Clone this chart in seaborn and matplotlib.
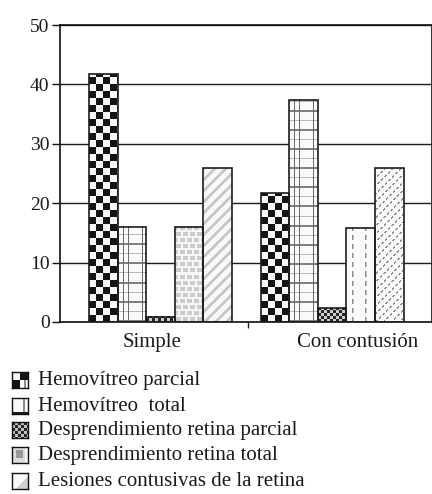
import numpy as np
import pandas as pd
import matplotlib
matplotlib.use("Agg")
import matplotlib.pyplot as plt
import seaborn as sns

# Porcentaje de lesiones por tipo de traumatismo
categories = ["Simple", "Con contusión"]
series = [
    "Hemovítreo parcial",
    "Hemovítreo  total",
    "Desprendimiento retina parcial",
    "Desprendimiento retina total",
    "Lesiones contusivas de la retina",
]
simple_vals = [41.7, 16.0, 0.9, 16.0, 25.9]
contusion_vals = [21.7, 37.4, 2.3, 15.9, 25.9]
y_ticks = [0, 10, 20, 30, 40, 50]

rows = []
for cat, vals in zip(categories, [simple_vals, contusion_vals]):
    for s, v in zip(series, vals):
        rows.append((cat, s, v))
df = pd.DataFrame(rows, columns=["tipo", "lesion", "pct"])

sns.set_theme(style="white")
plt.rcParams["font.family"] = ["Liberation Serif", "DejaVu Serif"]
TXT = "#1a1a1a"

W, H = 432, 494
fig = plt.figure(figsize=(W / 100, H / 100), dpi=100)
ax = fig.add_axes([60 / W, 172 / H, 371.5 / W, 297 / H])

sns.barplot(
    data=df, x="tipo", y="pct", hue="lesion",
    order=categories, hue_order=series,
    palette=["white"] * len(series), width=0.834,
    edgecolor="#1c1c1c", linewidth=1.2, errorbar=None,
    legend=False, ax=ax, zorder=3,
)
XLIM = (-0.586, 1.580)
ax.set_xlim(*XLIM)
ax.set_ylim(0, 50)


def bar_texture(si, ci, h, w):
    """Grey-level fill pattern for a bar of h x w pixels (anchored at the base)."""
    row, col = np.mgrid[0:h, 0:w]
    yy = h - 1 - row
    xx = col
    if si == 0:  # coarse checkerboard
        cell = 7.0
        m = ((np.floor(yy / cell) + np.floor(xx / cell)) % 2) == 0
        return np.where(m, 0.08, 0.97)
    if si == 1:  # plaid
        t = np.full((h, w), 0.98)
        t[(yy % 19) == 10] = 0.72
        t[(yy % 19) < 2] = 0.5
        vc = xx % 19
        t[(vc == 5) | (vc == 10)] = 0.42
        return t
    if si == 2:  # fine dark checker
        m = ((yy // 3 + xx // 3) % 2) == 0
        return np.where(m, 0.15, 0.8)
    if si == 3:
        if ci == 0:  # brick
            t = np.full((h, w), 0.97)
            r = yy % 6
            shift = np.where((yy // 6) % 2 == 0, 0, 3)
            c = (xx + shift) % 7
            t[(r >= 1) & (r <= 4) & (c >= 1) & (c <= 5)] = 0.8
            return t
        t = np.full((h, w), 0.98)  # dashed verticals
        c = xx % 13
        dash = (yy % 9) < 5
        t[(c == 6) & dash] = 0.55
        t[(c == 7) & dash] = 0.75
        return t
    if ci == 0:  # diagonal stripes
        d = (xx - yy) % 11
        return np.where(d < 4, 0.78, 0.97)
    d = (xx - yy) % 8  # dotted diagonals
    along = (xx + yy) % 7
    m = (d < 2) & (along < 4)
    return np.where(m, 0.55, 0.98)


for si, container in enumerate(ax.containers):
    for ci, bar in enumerate(container):
        x0, y0 = bar.get_x(), bar.get_y()
        bw, bh = bar.get_width(), bar.get_height()
        p0 = ax.transData.transform((x0, y0))
        p1 = ax.transData.transform((x0 + bw, y0 + bh))
        wpx = max(1, int(round(p1[0] - p0[0])))
        hpx = max(1, int(round(p1[1] - p0[1])))
        ax.imshow(bar_texture(si, ci, hpx, wpx), extent=(x0, x0 + bw, y0, y0 + bh),
                  origin="upper", cmap="gray", vmin=0, vmax=1,
                  interpolation="nearest", aspect="auto", zorder=2.5)
        bar.set_facecolor("none")

ax.set_xlim(*XLIM)
ax.set_ylim(0, 50)
ax.set_axisbelow(True)
ax.yaxis.grid(True, color="#1a1a1a", lw=1.0)
ax.xaxis.grid(False)

ax.set_yticks(y_ticks)
ax.set_xticks([-0.05, 1.152], labels=categories)
ax.set_xticks([0.51], minor=True)
ax.tick_params(axis="y", left=True, length=5.5, width=1, direction="out",
               pad=2, labelsize=14, color="#111", labelcolor=TXT)
ax.tick_params(axis="x", which="major", bottom=True, length=0, pad=8,
               labelsize=15, labelcolor=TXT)
ax.tick_params(axis="x", which="minor", bottom=True, length=4, width=1,
               direction="out", color="#222")
ax.set_xlabel("")
ax.set_ylabel("")
for sp in ax.spines.values():
    sp.set_visible(True)
    sp.set_color("#111")
    sp.set_linewidth(1.2)


def legend_texture(k):
    n = 16
    row, col = np.mgrid[0:n, 0:n]
    if k == 0:
        m = ((row // 8 + col // 8) % 2) == 1
        t = np.where(m, 0.08, 0.97)
        t[(row >= 8) & ((col == 12) | (col == 13))] = 0.55
        return t
    if k == 1:
        t = np.full((n, n), 0.98)
        t[:, 11:13] = 0.55
        t[14:, :] = 0.1
        return t
    if k == 2:
        m = ((row // 3 + col // 3) % 2) == 0
        return np.where(m, 0.15, 0.75)
    if k == 3:
        t = np.full((n, n), 0.86)
        t[4:11, 4:11] = 0.6
        t[:, 13:] = 0.95
        return t
    t = np.full((n, n), 0.97)
    t[(row + col) > 18] = 0.82
    return t


legend_y = [380, 406, 430, 455, 481]
for k, (label, yc) in enumerate(zip(series, legend_y)):
    lax = fig.add_axes([12 / W, 1 - (yc + 8) / H, 16 / W, 16 / H])
    lax.imshow(legend_texture(k), cmap="gray", vmin=0, vmax=1,
               interpolation="nearest", aspect="auto")
    lax.set_xticks([])
    lax.set_yticks([])
    for sp in lax.spines.values():
        sp.set_visible(True)
        sp.set_color("#111")
        sp.set_linewidth(1.0)
    fig.text(38 / W, 1 - yc / H, label, va="center", ha="left",
             fontsize=15, color=TXT)

fig.savefig("out.png", dpi=100)
